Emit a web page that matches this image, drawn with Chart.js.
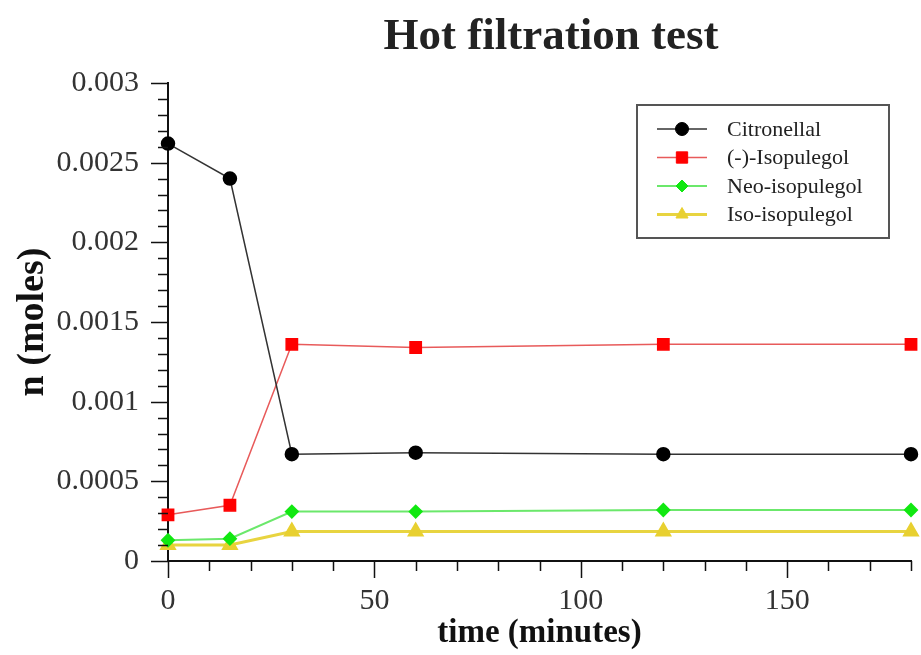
<!DOCTYPE html>
<html>
<head>
<meta charset="utf-8">
<script src="https://cdn.jsdelivr.net/npm/chart.js@4.4.1/dist/chart.umd.min.js"></script>
<style>
  html, body { margin: 0; padding: 0; background: #fff; }
  #wrap { width: 921px; height: 655px; }
</style>
</head>
<body>
<div id="wrap"><canvas id="hotChart" width="921" height="655"></canvas></div>
<script>
// time points (minutes)
const timeMin = [0, 15, 30, 60, 120, 180];

// moles
const citronellal = [0.00262, 0.00240, 0.000670, 0.000680, 0.000670, 0.000670];
const isopulegol = [0.000290, 0.000350, 0.00136, 0.00134, 0.00136, 0.00136];
const neoIsopulegol = [0.000130, 0.000140, 0.000310, 0.000310, 0.000320, 0.000320];
const isoIsopulegol = [0.000100, 0.000100, 0.000185, 0.000185, 0.000185, 0.000185];

const seriesNames = ["Citronellal", "(-)-Isopulegol", "Neo-isopulegol", "Iso-isopulegol"];
const yTickLabels = ["0", "0.0005", "0.001", "0.0015", "0.002", "0.0025", "0.003"];
const xTickLabels = ["0", "50", "100", "150"];

function pts(vals) {
    return timeMin.map((t, i) => ({ x: t, y: vals[i] }));
}

const serif = "'Liberation Serif', 'Times New Roman', serif";

// axis ticks drawn by hand so major/minor get different lengths
const tickPlugin = {
    id: "ticksAndLegend",
    afterDraw(chart) {
        const ctx = chart.ctx;
        const xs = chart.scales.x, ys = chart.scales.y;
        const area = chart.chartArea;
        ctx.save();
        ctx.strokeStyle = "#111";
        ctx.lineWidth = 1.5;
        ctx.beginPath();
        for (let v = 0; v <= 180; v += 10) {
            const px = Math.round(xs.getPixelForValue(v)) + 0.5;
            const len = v % 50 === 0 ? 17 : 10;
            ctx.moveTo(px, area.bottom);
            ctx.lineTo(px, area.bottom + len);
        }
        for (let i = 0; i <= 30; i++) {
            const py = Math.round(ys.getPixelForValue(i * 0.0001)) + 0.5;
            const len = i % 5 === 0 ? 17 : 10;
            ctx.moveTo(area.left, py);
            ctx.lineTo(area.left - len, py);
        }
        ctx.stroke();

        // title
        ctx.fillStyle = "#222";
        ctx.font = "bold 45px " + serif;
        ctx.textAlign = "center";
        ctx.textBaseline = "middle";
        ctx.fillText("Hot filtration test", 551, 37);

        // legend box
        const bx = 637, by = 105, bw = 252, bh = 133;
        ctx.strokeStyle = "#555";
        ctx.lineWidth = 2;
        ctx.strokeRect(bx, by, bw, bh);
        ctx.font = "22px " + serif;
        ctx.textAlign = "left";
        chart.data.datasets.forEach((ds, i) => {
            const cy = 129 + i * 28.5;
            ctx.strokeStyle = ds.borderColor;
            ctx.lineWidth = ds.borderWidth;
            ctx.beginPath();
            ctx.moveTo(657, cy);
            ctx.lineTo(707, cy);
            ctx.stroke();
            ctx.fillStyle = ds.pointBackgroundColor;
            ctx.strokeStyle = ds.pointBackgroundColor;
            ctx.lineWidth = 1;
            Chart.helpers.drawPoint(ctx, { pointStyle: ds.pointStyle, radius: ds.pointRadius, borderWidth: 1 }, 682, cy);
            ctx.fillStyle = "#222";
            ctx.fillText(seriesNames[i], 727, cy + 1);
        });
        ctx.restore();
    }
};

new Chart(document.getElementById("hotChart"), {
    type: "line",
    data: {
        datasets: [
            {
                label: seriesNames[0], data: pts(citronellal),
                borderColor: "#333333", borderWidth: 1.5,
                pointStyle: "circle", pointRadius: 6.5,
                pointBackgroundColor: "#000000", pointBorderColor: "#000000"
            },
            {
                label: seriesNames[1], data: pts(isopulegol),
                borderColor: "#e85a5a", borderWidth: 1.5,
                pointStyle: "rect", pointRadius: 8,
                pointBackgroundColor: "#ff0000", pointBorderColor: "#ff0000"
            },
            {
                label: seriesNames[2], data: pts(neoIsopulegol),
                borderColor: "#6be86b", borderWidth: 2,
                pointStyle: "rectRot", pointRadius: 6,
                pointBackgroundColor: "#11e811", pointBorderColor: "#11e811"
            },
            {
                label: seriesNames[3], data: pts(isoIsopulegol),
                borderColor: "#e8d440", borderWidth: 3,
                pointStyle: "triangle", pointRadius: 7,
                pointBackgroundColor: "#e8d030", pointBorderColor: "#e8d030"
            }
        ]
    },
    options: {
        responsive: false,
        animation: false,
        layout: { padding: { top: 83, right: 8, left: 0, bottom: 0 } },
        elements: { line: { tension: 0 } },
        datasets: { line: { clip: false } },
        plugins: {
            legend: { display: false },
            title: { display: false },
            tooltip: { enabled: false }
        },
        scales: {
            x: {
                type: "linear", min: 0, max: 180,
                grid: { display: false },
                border: { display: true, color: "#111", width: 2 },
                ticks: {
                    stepSize: 10, autoSkip: false, maxRotation: 0,
                    padding: 14, color: "#333",
                    font: { family: serif, size: 30 },
                    callback: v => (v % 50 === 0 ? xTickLabels[v / 50] : "")
                },
                title: {
                    display: true, text: "time (minutes)", color: "#111",
                    font: { family: serif, size: 33, weight: "bold" },
                    padding: { top: 0, bottom: 2 }
                },
                afterFit: s => { s.height = 94; s.paddingLeft = 0; s.paddingRight = 0; }
            },
            y: {
                type: "linear", min: 0, max: 0.003,
                grid: { display: false },
                border: { display: true, color: "#111", width: 2 },
                ticks: {
                    stepSize: 0.0001, autoSkip: false,
                    padding: 21, color: "#333",
                    font: { family: serif, size: 30 },
                    callback: (v, i) => (i % 5 === 0 ? yTickLabels[i / 5] : "")
                },
                title: {
                    display: true, text: "n (moles)", color: "#111",
                    font: { family: serif, size: 38, weight: "bold" },
                    padding: { top: 10, bottom: 0 }
                },
                afterFit: s => { s.width = 168; s.paddingTop = 0; s.paddingBottom = 0; }
            }
        }
    },
    plugins: [tickPlugin]
});
</script>
</body>
</html>
